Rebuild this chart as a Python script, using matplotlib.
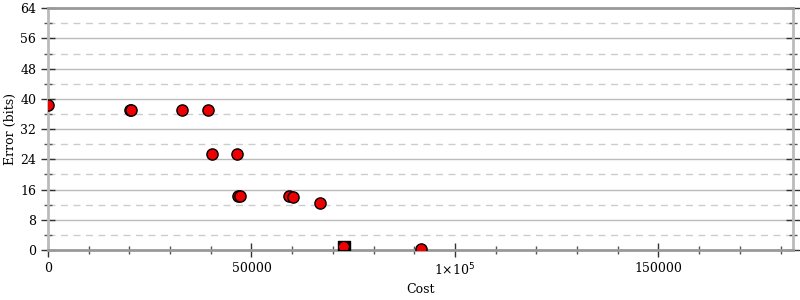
import matplotlib
matplotlib.use("Agg")
import matplotlib.pyplot as plt
from matplotlib.ticker import MultipleLocator

plt.rcParams['font.family'] = ['DejaVu Serif']

cost = [0, 20150, 20500, 32900, 39300, 40300, 46400, 46800, 47100, 59200, 60200, 66800, 91600]
error = [38.3, 37.0, 37.0, 37.0, 37.0, 25.4, 25.4, 14.3, 14.2, 14.3, 13.9, 12.4, 0.3]
best_cost = [72700]
best_error = [0.8]

xticks = [0, 50000, 100000, 150000]
xlabels = ["0", "50000", "1×10$^5$", "150000"]
yticks = [0, 8, 16, 24, 32, 40, 48, 56, 64]

fig = plt.figure(figsize=(8, 3), dpi=100)
ax = fig.add_axes([0.06, 0.1667, 0.931, 0.806])
ax.set_xlim(0, 183000)
ax.set_ylim(0, 64)

for y in range(8, 64, 8):
    ax.axhline(y, color='#bbbbbb', lw=1, zorder=0)
for y in range(4, 64, 8):
    ax.axhline(y, color='#cccccc', lw=1, ls=(0, (5, 4)), zorder=0)

ax.scatter(best_cost, best_error, marker='s', s=80, c='black', zorder=3)
ax.scatter(cost, error, s=65, c='#ee0000', edgecolors='black', linewidths=1, zorder=4)
ax.scatter(best_cost, best_error, s=50, c='#ee0000', edgecolors='none', zorder=5)

for s in ['left', 'right']:
    ax.spines[s].set_color('#bbbbbb')
    ax.spines[s].set_linewidth(2)
for s in ['top', 'bottom']:
    ax.spines[s].set_color('#999999')
    ax.spines[s].set_linewidth(2)

ax.set_xticks(xticks)
ax.set_xticklabels(xlabels)
ax.xaxis.set_minor_locator(MultipleLocator(10000))
ax.set_yticks(yticks)
ax.yaxis.set_minor_locator(MultipleLocator(4))
ax.tick_params(axis='both', which='major', direction='inout', length=10, width=1, color='#333333', labelsize=9)
ax.tick_params(axis='both', which='minor', direction='inout', length=6, width=1, color='#555555')
ax.tick_params(axis='y', which='both', right=True)
ax.set_xlabel("Cost", fontsize=9, va='center')
ax.set_ylabel("Error (bits)", fontsize=9, va='center', ha='center')
ax.xaxis.set_label_coords(0.5, -0.165)
ax.yaxis.set_label_coords(-0.051, 0.5)

fig.savefig("out.png", dpi=100)
